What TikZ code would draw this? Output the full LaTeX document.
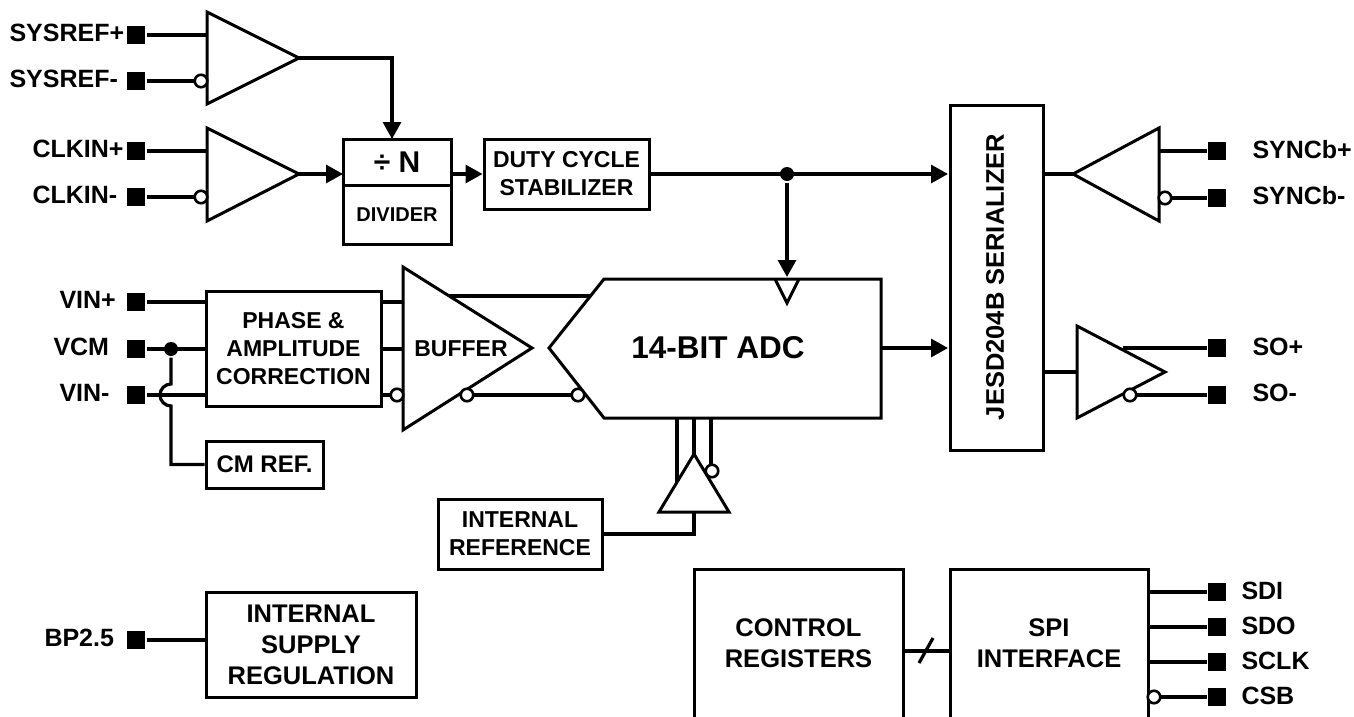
\documentclass[tikz,border=0pt]{standalone}
\usepackage{fontspec}
\setmainfont{Liberation Sans}
\usetikzlibrary{arrows.meta}

\begin{document}
\begin{tikzpicture}[
    x=1pt, y=-1pt,
    line width=3pt,
    line join=miter,
    wire/.style={line width=3.2pt},
    sig/.style={line width=3.2pt, -{Triangle[length=17pt,width=18pt]}},
    block/.style={draw, inner sep=0pt, align=center, font=\bfseries\fontsize{23}{28}\selectfont},
    plainblock/.style={inner sep=0pt, outer sep=0pt, align=center, font=\bfseries\fontsize{25.5}{31}\selectfont},
    pad/.style={fill=black, inner sep=0pt, minimum size=18pt},
    bubble/.style={circle, draw, fill=white, inner sep=0pt, minimum size=12.5pt, line width=2.6pt},
    dot/.style={circle, fill=black, inner sep=0pt, minimum size=14pt},
    pin/.style={anchor=west, inner sep=0pt, font=\bfseries\fontsize{25}{28}\selectfont}
]
\useasboundingbox (0,0) rectangle (1354,717);

% pads and their labels
\node[pad] (sysrefp) at (136,35) {};
\node[pad] (sysrefm) at (136,81) {};
\node[pad] (clkinp) at (136,151) {};
\node[pad] (clkinm) at (136,197) {};
\node[pad] (vinp) at (136,302) {};
\node[pad] (vcm) at (136,349) {};
\node[pad] (vinm) at (136,395) {};
\node[pad] (bp) at (136,640) {};
\node[pad] (syncp) at (1217,151) {};
\node[pad] (syncm) at (1217,198) {};
\node[pad] (sop) at (1217,348) {};
\node[pad] (som) at (1217,395) {};
\node[pad] (sdi) at (1217,592) {};
\node[pad] (sdo) at (1217,627) {};
\node[pad] (sclk) at (1217,662) {};
\node[pad] (csb) at (1217,697) {};

\node[pin] (sysrefplabel) at (8,33) {SYSREF+};
\node[pin] (sysrefmlabel) at (8,79) {SYSREF-};
\node[pin] (clkinplabel) at (31,149) {CLKIN+};
\node[pin] (clkinmlabel) at (31,195) {CLKIN-};
\node[pin] (vinplabel) at (58,300) {VIN+};
\node[pin] (vcmlabel) at (52,347) {VCM};
\node[pin] (vinmlabel) at (58,393) {VIN-};
\node[pin] (bplabel) at (43,638) {BP2.5};
\node[pin] (syncplabel) at (1251,150) {SYNCb+};
\node[pin] (syncmlabel) at (1251,196) {SYNCb-};
\node[pin] (soplabel) at (1251,347) {SO+};
\node[pin] (somlabel) at (1251,393) {SO-};
\node[pin] (sdilabel) at (1240,591) {SDI};
\node[pin] (sdolabel) at (1240,626) {SDO};
\node[pin] (sclklabel) at (1240,661) {SCLK};
\node[pin] (csblabel) at (1240,696) {CSB};

% blocks
\node[block, minimum width=108pt, minimum height=105pt] (divider) at (397,191.5) {};
\node[plainblock] (divn) at (397,162) {\fontsize{30}{30}\selectfont ÷ N};
\node[plainblock, font=\bfseries\fontsize{20}{24}\selectfont] (divtext) at (397,215) {DIVIDER};
\node[block, minimum width=165pt, minimum height=70pt] (duty) at (566.5,174) {DUTY CYCLE\\STABILIZER};
\node[block, minimum width=175pt, minimum height=115pt] (phase) at (293.5,348.5) {PHASE \&\\AMPLITUDE\\CORRECTION};
\node[block, minimum width=117pt, minimum height=47pt, font=\bfseries\fontsize{24}{28}\selectfont] (cmref) at (264.5,464.5) {CM REF.};
\node[block, minimum width=164pt, minimum height=70pt] (intref) at (520,534) {INTERNAL\\REFERENCE};
\node[block, minimum width=210pt, minimum height=105pt, font=\bfseries\fontsize{25.5}{31}\selectfont] (supply) at (311,644.5) {INTERNAL\\SUPPLY\\REGULATION};
\node[block, minimum width=93pt, minimum height=345pt] (serial) at (996.5,277.5) {};
\node[plainblock, rotate=90] (serialtext) at (995,277) {JESD204B SERIALIZER};
\node[plainblock, minimum width=209pt, minimum height=148pt] (control) at (798.5,643) {CONTROL\\REGISTERS};
\node[plainblock, minimum width=198pt, minimum height=148pt] (spi) at (1049,643) {SPI\\INTERFACE};
\draw (control.south west) |- (control.north east) -- (control.south east);
\draw (spi.south west) |- (spi.north east) -- (spi.south east);
\draw (divider.west |- 343,185) -- (divider.east |- 451,185);

% amplifier outlines
\draw (207,12) -- (299,58) -- (207,104) -- cycle;
\draw (207,128) -- (299,174) -- (207,221) -- cycle;
\draw (403,267) -- (532,348) -- (403,430) -- cycle;
\draw (659,512) -- (694,454) -- (729,512) -- cycle;
\draw (1159,128) -- (1073,174) -- (1159,221) -- cycle;
\draw (1077,326) -- (1165,372) -- (1077,418) -- cycle;
\draw (604,279) -- (881,279) -- (881,418) -- (604,418) -- (549,348) -- cycle;
\draw (775,279) -- (787,303) -- (799,279);
\node[plainblock, font=\bfseries\fontsize{31.5}{32}\selectfont] (adc) at (718,348) {14-BIT ADC};
\node[plainblock, font=\bfseries\fontsize{23}{26}\selectfont] (buffer) at (461,349) {BUFFER};

% connections
\coordinate (sysrefout) at (299,58);
\coordinate (clkout) at (299,174);
\coordinate (adcclk) at (787,277);
\draw[wire] (sysrefp) -- (207,35);
\draw[wire] (sysrefm) -- (207,81);
\draw[wire] (clkinp) -- (207,151);
\draw[wire] (clkinm) -- (207,197);
\draw[sig] (sysrefout) -| (392,139);
\draw[sig] (clkout) -- (343,174);
\draw[sig] (451,174) -- (duty.west);
\draw[sig] (duty.east) -- (948,174);
\node[dot] (clkdot) at (787,174) {};
\draw[sig] (clkdot) -- (adcclk);
\draw[sig] (881,348) -- (948,348);

\draw[wire] (vinp) -- (206,302);
\node[dot] (vcmdot) at (171,349) {};
\draw[wire] (vcm) -- (206,349);
\draw[wire] (vinm) -- (206,395);
\draw[wire] (vcmdot) -- (171,384) arc[start angle=90, end angle=270, radius=11pt] -- (171,464.5) -- (cmref.west);

\draw[wire] (381,302) -- (403,302);
\draw[wire] (381,349) -- (403,349);
\draw[wire] (381,395) -- (403,395);
\draw[wire] (449,296) -- (590,296);
\draw[wire] (467,395) -- (578,395);
\draw[wire] (677,418) -- (677,482);
\draw[wire] (694,418) -- (694,454);
\draw[wire] (711,418) -- (711,471);
\draw[wire] (694,512) |- (intref.east);

\draw[wire] (1043,174) -- (1073,174);
\draw[wire] (1159,151) -- (syncp);
\draw[wire] (1165,198) -- (syncm);
\draw[wire] (1043,372) -- (1077,372);
\draw[wire] (1123,348) -- (sop);
\draw[wire] (1130,395) -- (som);
\draw[wire] (1148,592) -- (sdi);
\draw[wire] (1148,627) -- (sdo);
\draw[wire] (1148,662) -- (sclk);
\draw[wire] (1154,697) -- (csb);
\draw[wire] (bp) -- (206,640);
\draw[wire] (903,651) -- (950,651);
\draw[wire] (919,663) -- (933,638);

% inverting inputs
\node[bubble] (sysrefinv) at (201,81) {};
\node[bubble] (clkininv) at (201,197) {};
\node[bubble] (bufinv) at (397,395) {};
\node[bubble] (bufoutinv) at (467,395) {};
\node[bubble] (adcinv) at (578,395) {};
\node[bubble] (refinv) at (712,471) {};
\node[bubble] (syncinv) at (1165,198) {};
\node[bubble] (soinv) at (1130,395) {};
\node[bubble] (csbinv) at (1154,697) {};

\end{tikzpicture}
\end{document}
